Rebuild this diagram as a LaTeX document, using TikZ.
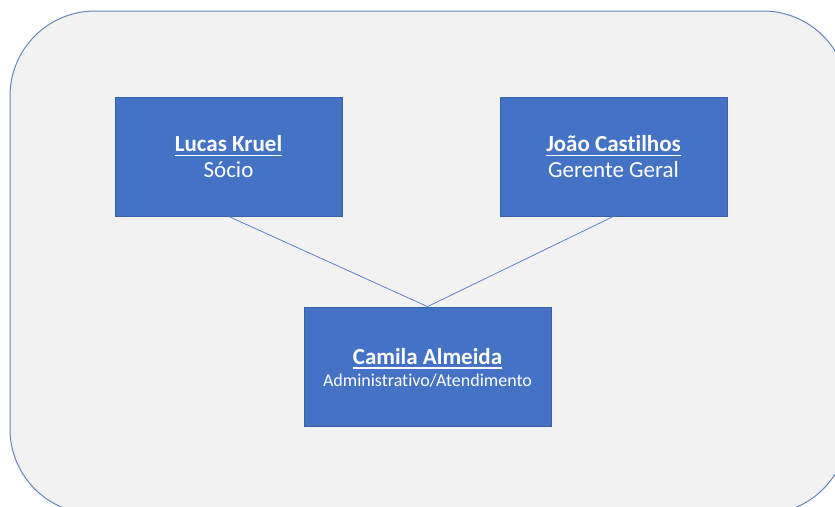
\documentclass[tikz,border=0pt]{standalone}
\usepackage{fontspec}
\setmainfont{Carlito}[Ligatures=NoCommon]
\definecolor{panelfill}{HTML}{F2F2F2}
\definecolor{panelline}{HTML}{6A86BC}
\definecolor{boxfill}{HTML}{4472C4}
\definecolor{boxline}{HTML}{3A62AA}
\definecolor{linkline}{HTML}{5B83CC}
\tikzset{
  person/.style={draw=boxline, line width=0.8pt, fill=boxfill,
    minimum height=119pt, inner sep=0pt},
  pname/.style={text=white, inner sep=0pt, anchor=base,
    font=\fontsize{23pt}{27pt}\selectfont\bfseries},
  prole/.style={text=white, inner sep=0pt, anchor=base,
    font=\fontsize{23pt}{27pt}\selectfont},
  psmallrole/.style={text=white, inner sep=0pt, anchor=base,
    font=\fontsize{18pt}{22pt}\selectfont},
  underl/.style={draw=white, line width=1.8pt},
  link/.style={draw=linkline, line width=0.8pt}
}
\begin{document}
\begin{tikzpicture}[x=1pt,y=-1pt]
  \useasboundingbox (0,0) rectangle (835,506);
  \clip (0,0) rectangle (835,506);
  \fill[white] (0,0) rectangle (835,506);
  % rounded panel behind the chart
  \draw[panelline, line width=1pt, fill=panelfill, rounded corners=85pt]
    (10,11) rectangle (848,514);
  % boxes
  \node[person, minimum width=227pt] (lucas) at (228.5,156.5) {};
  \node[person, minimum width=227pt] (joao) at (613.5,156.5) {};
  \node[person, minimum width=247pt] (camila) at (427.5,366.5) {};
  % texts
  \node[pname] (lucasname) at (228.5,151) {Lucas Kruel};
  \node[prole] (lucasrole) at (228.5,177) {Sócio};
  \node[pname] (joaoname) at (613.5,151) {João Castilhos};
  \node[prole] (joaorole) at (613.5,177) {Gerente Geral};
  \node[pname] (camilaname) at (427.5,364) {Camila Almeida};
  \node[psmallrole] (camilarole) at (427.5,386) {Administrativo/Atendimento};
  % underlines of the names
  \draw[underl] ([yshift=-4.5pt]lucasname.base west) -- ([yshift=-4.5pt]lucasname.base east);
  \draw[underl] ([yshift=-4.5pt]joaoname.base west) -- ([yshift=-4.5pt]joaoname.base east);
  \draw[underl] ([yshift=-4pt]camilaname.base west) -- ([yshift=-4pt]camilaname.base east);
  % reporting lines
  \draw[link] (lucas.south) -- (camila.north);
  \draw[link] (joao.south) -- (camila.north);
\end{tikzpicture}
\end{document}
